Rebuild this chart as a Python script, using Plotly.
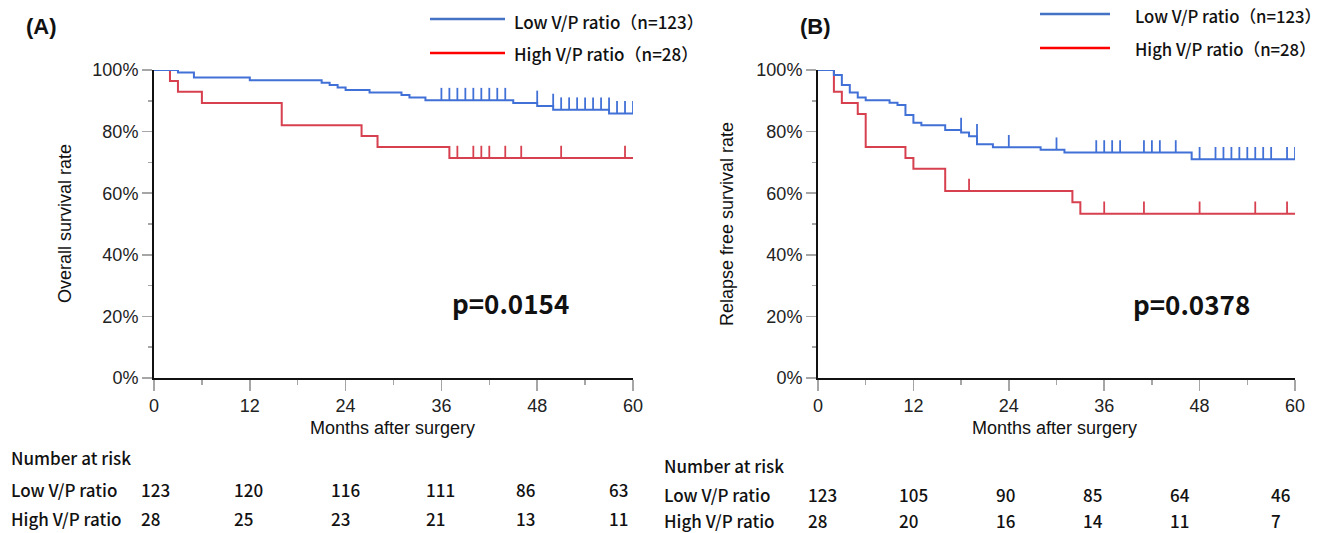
import plotly.graph_objects as go

W, H = 1321, 533

# ---------------- Data ----------------
# Panel A: overall survival (%)
os_low_t = [0, 3, 5, 12, 21, 22, 23, 24, 27, 31, 32, 34, 45, 48, 50, 57, 60]
os_low_s = [100, 99.2, 97.6, 96.7, 95.9, 95.1, 94.3, 93.5, 92.7, 91.9, 91.1, 90.2, 89.3, 88.3, 87.1, 85.9, 85.9]
os_low_cens = [36, 37, 38, 39, 40, 41, 42, 43, 44, 48, 50, 51, 52, 53, 54, 55, 56, 57, 58, 59, 60]

os_high_t = [0, 2, 3, 6, 16, 26, 28, 37, 60]
os_high_s = [100, 96.4, 92.9, 89.3, 82.1, 78.6, 75.0, 71.4, 71.4]
os_high_cens = [38, 40, 41, 42, 44, 46, 51, 59]

# Panel B: relapse free survival (%)
rfs_low_t = [0, 2, 3, 4, 5, 6, 9, 10, 11, 12, 13, 16, 18, 19, 20, 22, 28, 31, 47, 60]
rfs_low_s = [100, 98.4, 95.1, 92.7, 91.1, 90.2, 89.4, 88.6, 85.4, 82.9, 82.1, 80.5, 79.7, 78.5, 75.9, 74.9, 74.1, 73.2, 71.0, 71.0]
rfs_low_cens = [18, 20, 24, 30, 35, 36, 37, 38, 41, 42, 43, 45, 48, 50, 51, 52, 53, 54, 55, 56, 57, 59, 60]

rfs_high_t = [0, 2, 3, 5, 6, 11, 12, 16, 32, 33, 60]
rfs_high_s = [100, 92.9, 89.3, 85.7, 75.0, 71.4, 67.9, 60.7, 57.1, 53.3, 53.3]
rfs_high_cens = [19, 36, 41, 48, 55, 59]

month_ticks = [0, 12, 24, 36, 48, 60]
pct_ticks = [0, 20, 40, 60, 80, 100]
pct_labels = ["0%", "20%", "40%", "60%", "80%", "100%"]
risk_os_low = [123, 120, 116, 111, 86, 63]
risk_os_high = [28, 25, 23, 21, 13, 11]
risk_rfs_low = [123, 105, 90, 85, 64, 46]
risk_rfs_high = [28, 20, 16, 14, 11, 7]

label_low = "Low V/P ratio（n=123）"
label_high = "High V/P ratio（n=28）"
p_os = "p=0.0154"
p_rfs = "p=0.0378"

# ---------------- Styles ----------------
BLUE = "#4170d6"
RED = "#d6404f"
LEG_BLUE = "#4472c4"
LEG_RED = "#ff0000"
ARIAL = "Liberation Sans, Arial, Helvetica, sans-serif"
CJK = "Noto Sans CJK JP, Noto Sans, sans-serif"
CENS_H = 4.0  # censor tick height (percentage points)


def px(x):
    return x / W


def py(y):
    return 1 - y / H


def surv_before(times, surv, t):
    val = surv[0]
    for ti, si in zip(times, surv):
        if ti < t:
            val = si
        else:
            break
    return val


def censor_xy(times, surv, cens):
    xs, ys = [], []
    for c in cens:
        s = surv_before(times, surv, c)
        xs += [c, c, None]
        ys += [s, s + CENS_H, None]
    return xs, ys


fig = go.Figure()

panels = [
    ("x", "y", os_low_t, os_low_s, os_low_cens, os_high_t, os_high_s, os_high_cens),
    ("x2", "y2", rfs_low_t, rfs_low_s, rfs_low_cens, rfs_high_t, rfs_high_s, rfs_high_cens),
]
for xa, ya, lt, ls, lc, ht, hs, hc in panels:
    for t, s, c, col in [(ht, hs, hc, RED), (lt, ls, lc, BLUE)]:
        fig.add_trace(go.Scatter(x=t, y=s, mode="lines", line=dict(color=col, width=2, shape="hv"),
                                 xaxis=xa, yaxis=ya, cliponaxis=False, hoverinfo="skip"))
        cx, cy = censor_xy(t, s, c)
        fig.add_trace(go.Scatter(x=cx, y=cy, mode="lines", line=dict(color=col, width=1.8),
                                 xaxis=xa, yaxis=ya, cliponaxis=False, hoverinfo="skip"))

xcommon = dict(range=[0, 60], tickvals=month_ticks, ticks="outside", ticklen=11, tickwidth=1.5,
               tickcolor="#a6a6a6", automargin=False,
               minor=dict(tickvals=[6, 18, 30, 42, 54], ticks="outside", ticklen=5, tickwidth=1.5,
                          tickcolor="#a6a6a6"),
               showline=True, linecolor="#111111", linewidth=1.6, showgrid=False, zeroline=False,
               tickfont=dict(family=ARIAL, size=18, color="#222222"))
ycommon = dict(range=[0, 100], tickvals=pct_ticks, ticktext=pct_labels, ticks="outside",
               ticklen=10, tickwidth=1.5, tickcolor="#a6a6a6", automargin=False,
               minor=dict(tickvals=[10, 30, 50, 70, 90], ticks="outside", ticklen=4, tickwidth=1.5,
                          tickcolor="#a6a6a6"),
               showline=True, linecolor="#111111", linewidth=2, showgrid=False, zeroline=False,
               tickfont=dict(family=ARIAL, size=18, color="#222222"))

ydom = [py(378), py(70)]
fig.update_layout(
    template="none",
    width=W, height=H, margin=dict(l=0, r=0, t=0, b=0, pad=0, autoexpand=False),
    paper_bgcolor="white", plot_bgcolor="white", showlegend=False,
    xaxis=dict(domain=[px(154), px(633)], anchor="y", **xcommon),
    yaxis=dict(domain=ydom, anchor="x", **ycommon),
    xaxis2=dict(domain=[px(818), px(1295)], anchor="y2", **xcommon),
    yaxis2=dict(domain=ydom, anchor="x2", **ycommon),
)

ann = []
shapes = []


def text(x, y, s, font, size, xanchor="left", bold=False, color="#111111", angle=0, weight=None):
    f = dict(family=font, size=size, color=color)
    if weight:
        f["weight"] = weight
    ann.append(dict(x=px(x), y=py(y), xref="paper", yref="paper", text=(f"<b>{s}</b>" if bold else s),
                    showarrow=False, xanchor=xanchor, yanchor="middle", textangle=angle, font=f,
                    borderpad=0))


# Panel labels
text(25, 27, "(A)", ARIAL, 22, bold=True)
text(799, 27, "(B)", ARIAL, 22, bold=True)

# Legends
for (lx0, lx1, tx, y1, y2, fs) in [(430, 505, 513, 19, 53, 17), (1040, 1110, 1134, 14, 48, 16.7)]:
    shapes.append(dict(type="line", xref="paper", yref="paper", x0=px(lx0), x1=px(lx1), y0=py(y1), y1=py(y1),
                       line=dict(color=LEG_BLUE, width=2.5)))
    shapes.append(dict(type="line", xref="paper", yref="paper", x0=px(lx0), x1=px(lx1), y0=py(y2), y1=py(y2),
                       line=dict(color=LEG_RED, width=2.5)))
    text(tx, y1 + 2, label_low, CJK, fs, weight=500)
    text(tx, y2 + 1, label_high, CJK, fs, weight=500)

# p-values
text(511, 302, p_os, CJK, 26, xanchor="center", bold=True)
text(1191, 303, p_rfs, CJK, 26, xanchor="center", bold=True)

# Axis titles
text(393, 428, "Months after surgery", ARIAL, 18, xanchor="center")
text(1054, 428, "Months after surgery", ARIAL, 18, xanchor="center")
text(65, 224, "Overall survival rate", ARIAL, 18, xanchor="center", angle=-90)
text(727, 224, "Relapse free survival rate", ARIAL, 18, xanchor="center", angle=-90)

# Risk tables
tables = [
    (10, [140, 233, 330, 425, 515, 608], 457, 489, 518, risk_os_low, risk_os_high),
    (663, [807, 898, 995, 1082, 1169, 1270], 465, 494, 520, risk_rfs_low, risk_rfs_high),
]
for x0, xs, yh, yl, yhh, low, high in tables:
    text(x0, yh, "Number at risk", CJK, 17, weight=500)
    text(x0, yl, "Low V/P ratio", CJK, 17, weight=500)
    text(x0, yhh, "High V/P ratio", CJK, 17, weight=500)
    for xx, a, b in zip(xs, low, high):
        text(xx, yl, str(a), CJK, 17, weight=500)
        text(xx, yhh, str(b), CJK, 17, weight=500)

fig.update_layout(annotations=ann, shapes=shapes)
fig.write_html("out.html", config=dict(displayModeBar=False, staticPlot=True),
               post_script="document.body.style.margin='0px';document.body.style.overflow='hidden';")
